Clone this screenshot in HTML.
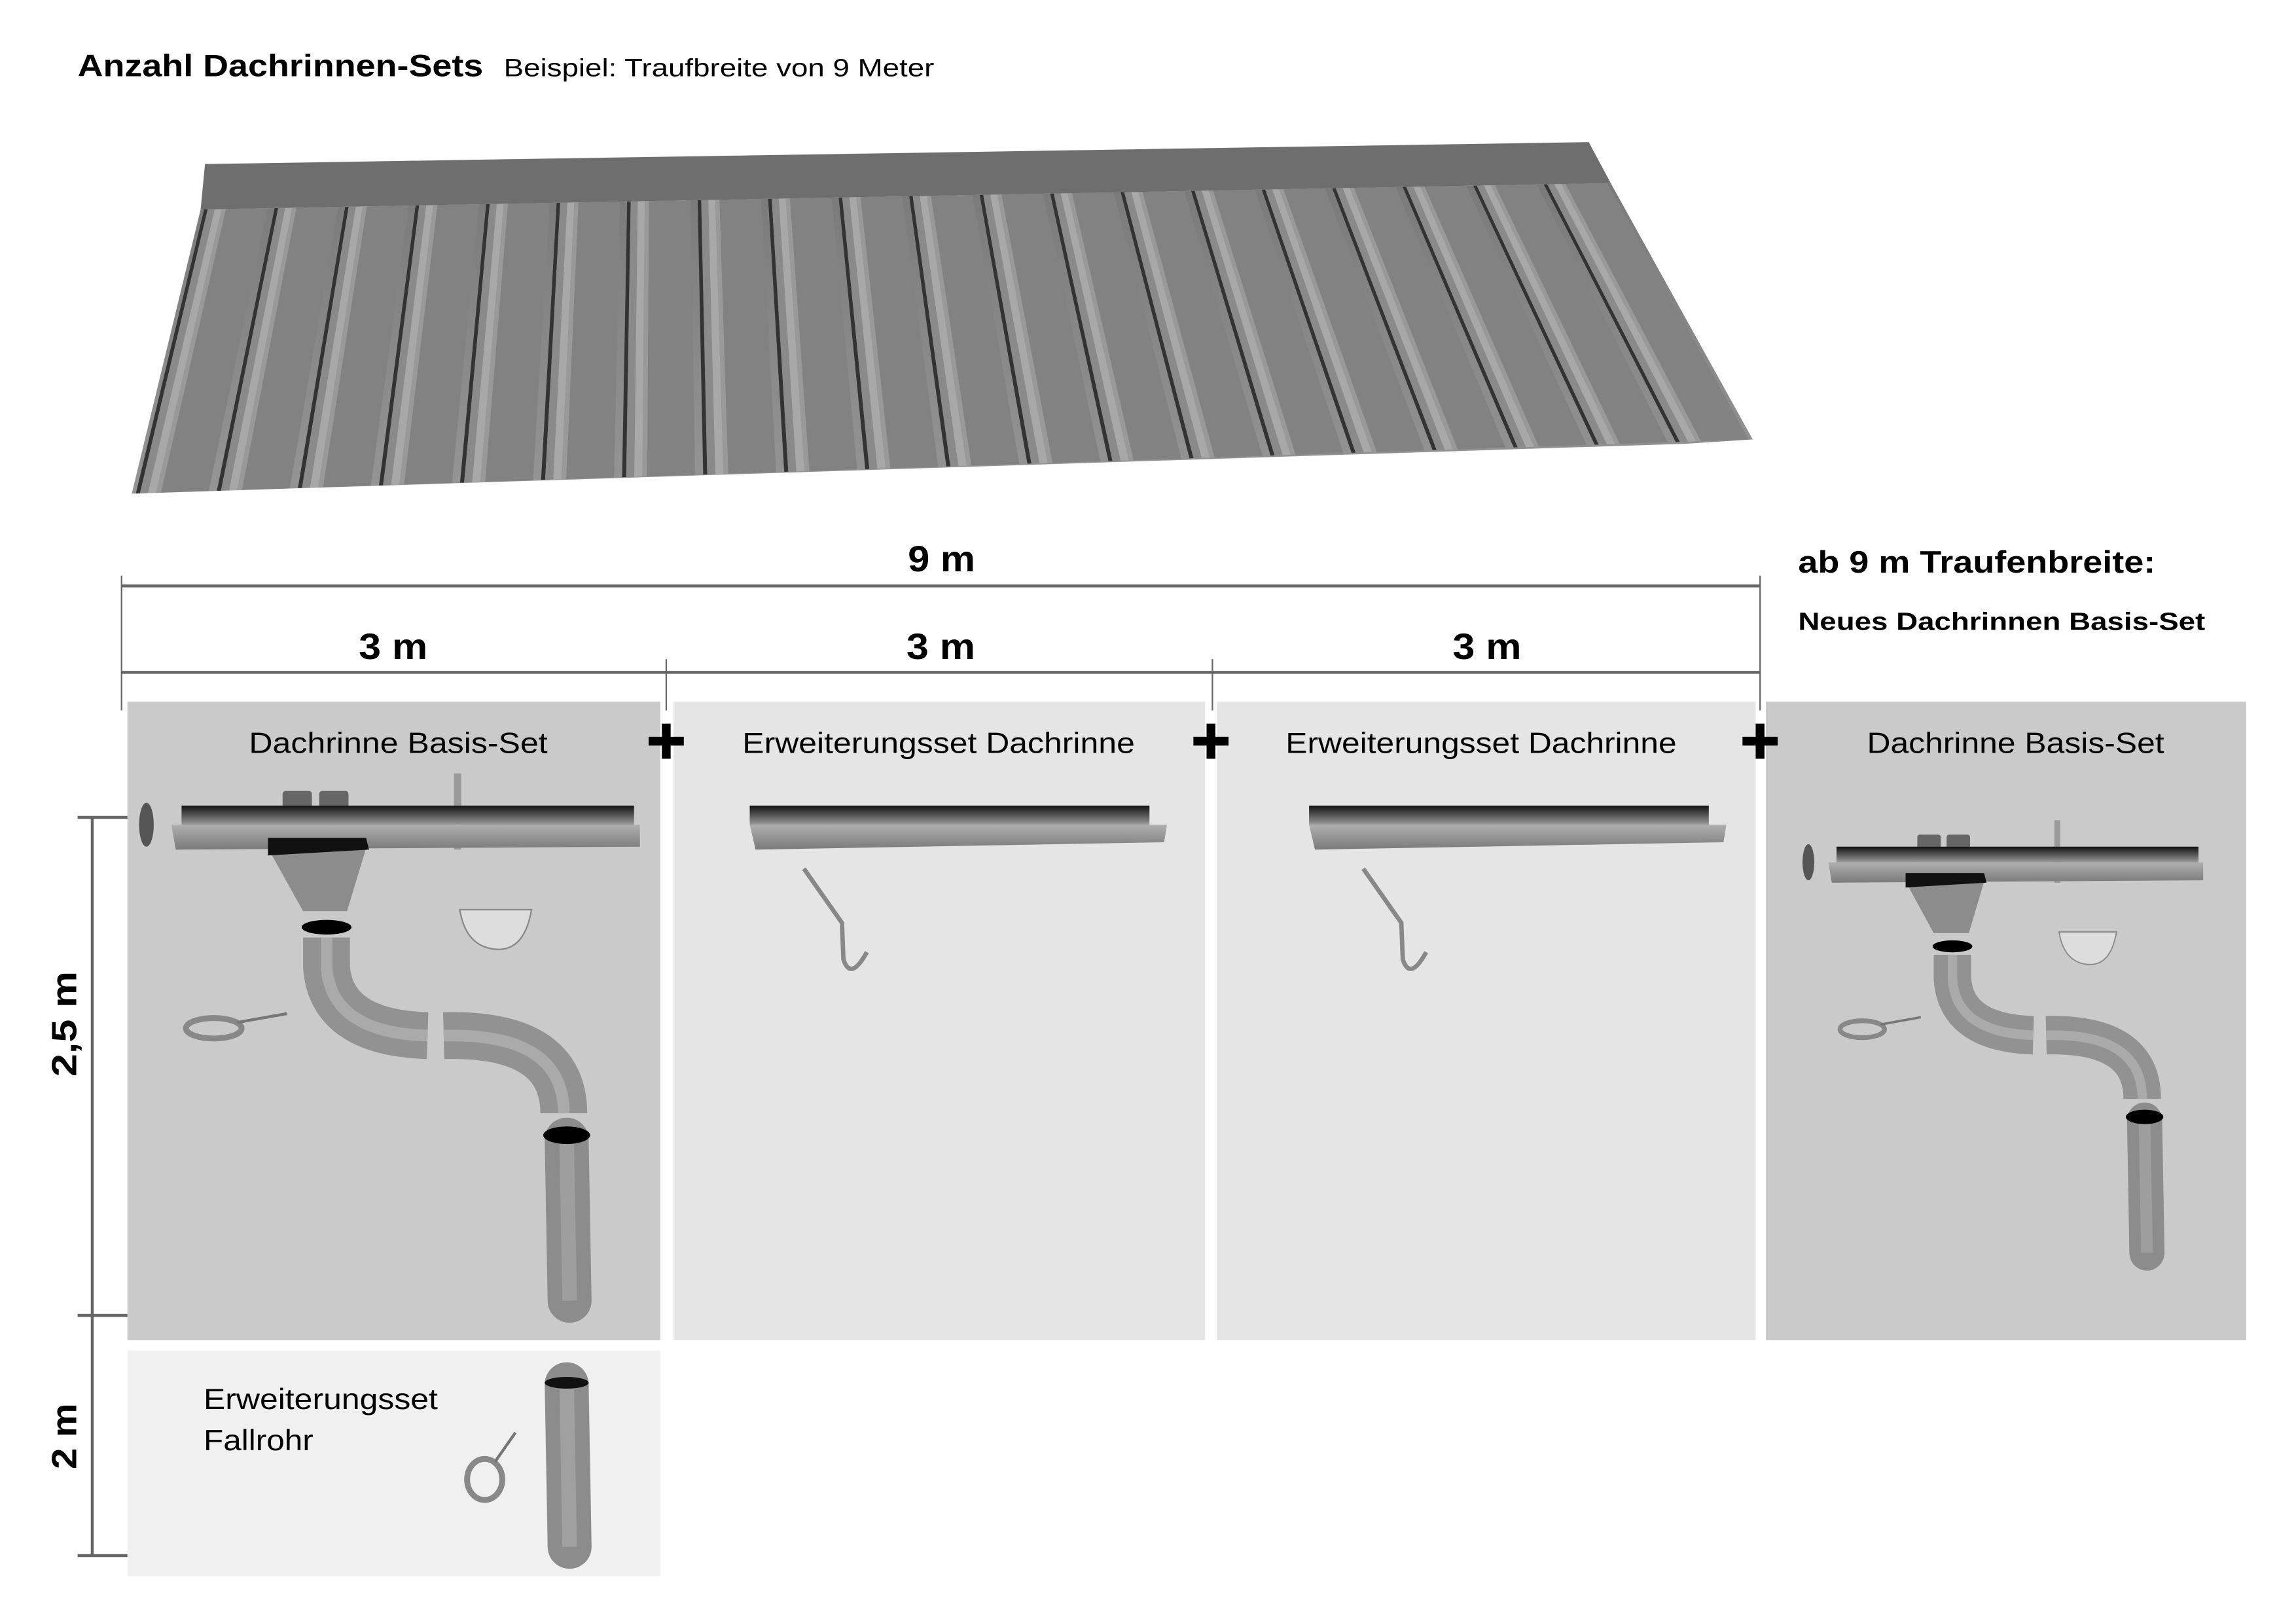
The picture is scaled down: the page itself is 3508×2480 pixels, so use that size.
<!DOCTYPE html>
<html><head><meta charset="utf-8">
<style>html,body{margin:0;padding:0;background:#fff}svg{display:block}text{font-family:"Liberation Sans",sans-serif}</style>
</head><body>
<svg id="s" width="3508" height="2480" viewBox="0 0 1568 1108" preserveAspectRatio="none" xmlns="http://www.w3.org/2000/svg">
<defs>
<linearGradient id="gut" x1="0" y1="0" x2="0" y2="1"><stop offset="0" stop-color="#111"/><stop offset="0.5" stop-color="#555"/><stop offset="1" stop-color="#999"/></linearGradient>
<linearGradient id="lip" x1="0" y1="0" x2="0" y2="1"><stop offset="0" stop-color="#b0b0b0"/><stop offset="1" stop-color="#7a7a7a"/></linearGradient>
<linearGradient id="roofg" x1="0" y1="0" x2="0" y2="1"><stop offset="0" stop-color="#7a7a7a"/><stop offset="1" stop-color="#959595"/></linearGradient>
</defs>
<rect width="1568" height="1108" fill="#fff"/>
<text x="53" y="52" font-size="21" font-weight="bold" textLength="277" lengthAdjust="spacingAndGlyphs">Anzahl Dachrinnen-Sets</text>
<text x="344" y="52" font-size="17" textLength="294" lengthAdjust="spacingAndGlyphs">Beispiel: Traufbreite von 9 Meter</text>

<!-- roof -->
<polygon points="137,143 1100,125 1197,300 1150,303 90,337" fill="url(#roofg)"/>
<g id="ribs"></g>
<polygon points="140,112 1085,97 1100,125 137,143" fill="#6e6e6e"/>

<!-- dimensions -->
<g stroke="#666" stroke-width="2" fill="none">
<line x1="83" y1="400" x2="1202" y2="400"/>
<line x1="83" y1="459" x2="1202" y2="459"/>
<line x1="83" y1="393" x2="83" y2="485" stroke-width="1"/>
<line x1="1202" y1="393" x2="1202" y2="485" stroke-width="1"/>
<line x1="455" y1="450" x2="455" y2="485" stroke-width="1"/>
<line x1="828" y1="450" x2="828" y2="485" stroke-width="1"/>
<line x1="63" y1="558" x2="63" y2="1062"/>
<line x1="53" y1="558" x2="96" y2="558"/>
<line x1="53" y1="898" x2="96" y2="898"/>
<line x1="53" y1="1062" x2="96" y2="1062"/>
</g>
<text x="620" y="390" font-size="25" font-weight="bold" textLength="46" lengthAdjust="spacingAndGlyphs">9 m</text>
<text x="245" y="450" font-size="25" font-weight="bold" textLength="47" lengthAdjust="spacingAndGlyphs">3 m</text>
<text x="619" y="450" font-size="25" font-weight="bold" textLength="47" lengthAdjust="spacingAndGlyphs">3 m</text>
<text x="992" y="450" font-size="25" font-weight="bold" textLength="47" lengthAdjust="spacingAndGlyphs">3 m</text>
<text x="1228" y="391" font-size="21" font-weight="bold" textLength="244" lengthAdjust="spacingAndGlyphs">ab 9 m Traufenbreite:</text>
<text x="1228" y="430" font-size="17" font-weight="bold" textLength="278" lengthAdjust="spacingAndGlyphs">Neues Dachrinnen Basis-Set</text>
<text transform="translate(52,735) rotate(-90)" font-size="24" font-weight="bold" textLength="72" lengthAdjust="spacingAndGlyphs">2,5 m</text>
<text transform="translate(52,1003) rotate(-90)" font-size="24" font-weight="bold" textLength="45" lengthAdjust="spacingAndGlyphs">2 m</text>

<!-- panels -->
<rect x="87" y="479" width="364" height="436" fill="#cacaca"/>
<rect x="460" y="479" width="363" height="436" fill="#e5e5e5"/>
<rect x="831" y="479" width="368" height="436" fill="#e5e5e5"/>
<rect x="1206" y="479" width="328" height="436" fill="#cacaca"/>
<rect x="87" y="922" width="364" height="154" fill="#f0f0f0"/>

<text x="170" y="514" font-size="20" textLength="204" lengthAdjust="spacingAndGlyphs">Dachrinne Basis-Set</text>
<text x="507" y="514" font-size="20" textLength="268" lengthAdjust="spacingAndGlyphs">Erweiterungsset Dachrinne</text>
<text x="878" y="514" font-size="20" textLength="267" lengthAdjust="spacingAndGlyphs">Erweiterungsset Dachrinne</text>
<text x="1275" y="514" font-size="20" textLength="203" lengthAdjust="spacingAndGlyphs">Dachrinne Basis-Set</text>
<text x="139" y="962" font-size="20" textLength="160" lengthAdjust="spacingAndGlyphs">Erweiterungsset</text>
<text x="139" y="990" font-size="20" textLength="75" lengthAdjust="spacingAndGlyphs">Fallrohr</text>

<!-- plus signs -->
<g fill="#000">
<rect x="443" y="503" width="24" height="6"/><rect x="452" y="494" width="6" height="24"/>
<rect x="815" y="503" width="24" height="6"/><rect x="824" y="494" width="6" height="24"/>
<rect x="1190" y="503" width="24" height="6"/><rect x="1199" y="494" width="6" height="24"/>
</g>

<!-- basis set -->
<g id="basis">
<rect x="193" y="540" width="20" height="12" rx="2" fill="#666"/>
<rect x="218" y="540" width="20" height="12" rx="2" fill="#666"/>
<rect x="310" y="528" width="5" height="52" fill="#9a9a9a"/>
<ellipse cx="100" cy="563" rx="5" ry="15" fill="#555"/>
<polygon points="124,550 433,550 433,563 124,563" fill="url(#gut)"/>
<polygon points="117,563 437,563 437,578 120,580" fill="url(#lip)"/>
<polygon points="183,579 250,579 237,622 207,622" fill="#8c8c8c"/>
<polygon points="183,572 250,572 252,580 183,584" fill="#111"/>
<path d="M223,640 L223,660 Q226,705 292,707" stroke="#929292" stroke-width="32" fill="none"/>
<path d="M223,640 L223,660 Q226,705 292,707" stroke="#aaa" stroke-width="8" fill="none"/>
<path d="M303,707 Q385,705 385,760" stroke="#929292" stroke-width="32" fill="none"/>
<path d="M303,707 Q385,705 385,760" stroke="#aaa" stroke-width="8" fill="none"/>
<ellipse cx="223" cy="633" rx="17" ry="5" fill="#000"/>
<line x1="387" y1="778" x2="389" y2="888" stroke="#8c8c8c" stroke-width="30" stroke-linecap="round"/>
<line x1="387" y1="778" x2="389" y2="888" stroke="#9e9e9e" stroke-width="10"/>
<ellipse cx="387" cy="775" rx="16" ry="6" fill="#000"/>
<ellipse cx="146" cy="702" rx="19" ry="7" fill="none" stroke="#888" stroke-width="4"/>
<line x1="162" y1="698" x2="196" y2="692" stroke="#777" stroke-width="2"/>
<path d="M314,621 L363,621 Q358,650 338,648 Q318,646 314,621 Z" fill="#ddd" stroke="#888" stroke-width="1"/>
</g>
<use href="#basis" transform="matrix(0.8,0,0,0.82,1155,127)"/>

<!-- extension gutters -->
<g id="ext">
<polygon points="512,550 785,550 785,563 512,563" fill="url(#gut)"/>
<polygon points="512,563 797,563 795,575 516,580" fill="url(#lip)"/>
<path d="M549,593 L575,630 L576,655 Q581,670 592,650" stroke="#888" stroke-width="3" fill="none"/>
</g>
<use href="#ext" transform="translate(382,0)"/>

<!-- fallrohr ext -->
<line x1="387" y1="945" x2="389" y2="1056" stroke="#8c8c8c" stroke-width="30" stroke-linecap="round"/>
<line x1="387" y1="945" x2="389" y2="1056" stroke="#a0a0a0" stroke-width="10"/>
<ellipse cx="387" cy="944" rx="15" ry="4" fill="#111"/>
<ellipse cx="331" cy="1010" rx="12" ry="14" fill="none" stroke="#888" stroke-width="4"/>
<line x1="338" y1="998" x2="352" y2="978" stroke="#777" stroke-width="2"/>
</svg>
<script>
(function(){
var g=document.getElementById('ribs'),N=20;
function L(a,b,t){return [a[0]+(b[0]-a[0])*t,a[1]+(b[1]-a[1])*t];}
var T0=[137,143],T1=[1100,125],B0=[90,337],B1=[1197,300],h='';
for(var i=0;i<N;i++){
 function q(f,c){var t0=(i+f[0])/N,t1=(i+f[1])/N,a=L(T0,T1,t0),b=L(T0,T1,t1),c2=L(B0,B1,t1),d=L(B0,B1,t0);
 h+='<polygon points="'+a+' '+b+' '+c2+' '+d+'" fill="'+c+'"/>';}
 q([0.05,0.1],'#333');q([0.1,0.2],'#8a8a8a');q([0.2,0.3],'#a8a8a8');q([0.3,0.36],'#999');q([0.36,0.95],'#828282');
}
g.innerHTML=h;
})();
</script>
</body></html>
